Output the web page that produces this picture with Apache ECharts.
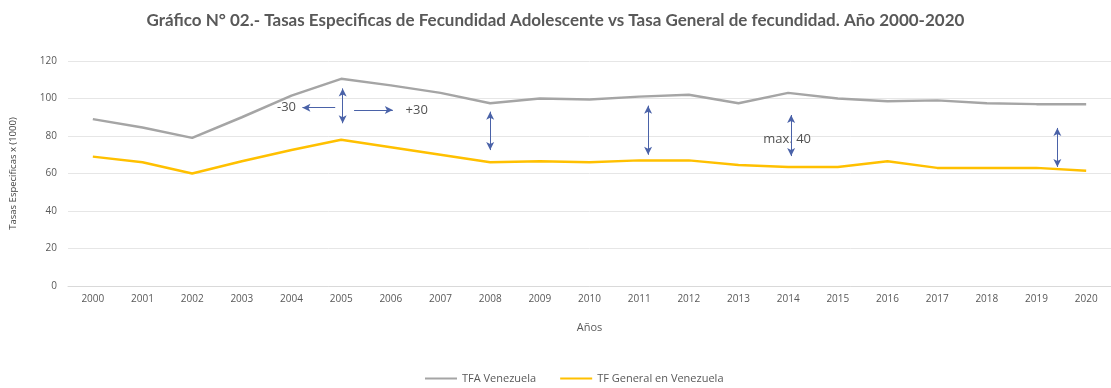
<!DOCTYPE html>
<html><head><meta charset="utf-8">
<script src="https://cdn.jsdelivr.net/npm/echarts@6/dist/echarts.min.js"></script>
<style>html,body{margin:0;padding:0;background:#fff}#c{width:1111px;height:388px}</style>
</head><body><div id="c"></div>
<script>
const years = ['2000','2001','2002','2003','2004','2005','2006','2007','2008','2009','2010','2011','2012','2013','2014','2015','2016','2017','2018','2019','2020'];
const tfaVenezuela = [89, 84.5, 79, 90, 101.5, 110.5, 107, 103, 97.5, 100, 99.5, 101, 102, 97.5, 103, 100, 98.5, 99, 97.5, 97, 97];
const tfGeneral = [69, 66, 60, 66.5, 72.5, 78, 74, 70, 66, 66.5, 66, 67, 67, 64.5, 63.5, 63.5, 66.5, 63, 63, 63, 61.5];
const yTicks = [0, 20, 40, 60, 80, 100, 120];
// annotation arrows: [x (category index), yFrom, yTo]
const vArrows = [[5.03, 86.8, 105.4], [8.0, 72.5, 93], [11.18, 70, 96.2], [14.06, 69.3, 91.2], [19.42, 63.5, 84.3]];
// horizontal arrows: [xTail, xHead, y]
const hArrows = [[4.88, 4.22, 95.1], [5.26, 6.04, 93.9]];
const labels = [[3.9, 95.1, '-30'], [6.52, 93.9, '+30'], [13.98, 78.4, 'max. 40']];

const arrowColor = '#4a62a8';
const markData = [];
vArrows.forEach(a => markData.push([{coord:[a[0], a[1]], symbol:'arrow'}, {coord:[a[0], a[2]], symbol:'arrow'}]));
hArrows.forEach(a => markData.push([{coord:[a[0], a[2]], symbol:'none'}, {coord:[a[1], a[2]], symbol:'arrow'}]));

const chart = echarts.init(document.getElementById('c'), null, {renderer:'canvas'});
chart.setOption({
  animation:false,
  title:{text:'Gráfico N° 02.- Tasas Especificas de Fecundidad Adolescente vs Tasa General de fecundidad. Año 2000-2020',
    left:'center', top:7, textStyle:{fontFamily:'Lato', fontWeight:'bold', fontSize:17, color:'#595959'}},
  grid:{left:68, right:-11, top:61, bottom:102, containLabel:false},
  legend:{bottom:-1, left:420, itemWidth:32, itemHeight:2, itemGap:24, icon:'rect',
    textStyle:{fontFamily:'Open Sans', fontSize:11, color:'#595959'},
    data:['TFA Venezuela','TF General en Venezuela']},
  xAxis:[{type:'category', data:years, boundaryGap:true,
    axisLine:{lineStyle:{color:'#d9d9d9'}}, axisTick:{show:false},
    axisLabel:{fontFamily:'Open Sans', fontSize:10, color:'#595959', margin:8},
    name:'Años', nameLocation:'middle', nameGap:36,
    nameTextStyle:{fontFamily:'Open Sans', fontSize:11, color:'#595959'}},
    {type:'value', min:-0.5, max:20.5, show:false}],
  yAxis:{type:'value', min:0, max:120, interval:20,
    axisLabel:{fontFamily:'Open Sans', fontSize:10, color:'#595959', margin:11,
      formatter: v => yTicks.includes(v) ? String(v) : ''},
    splitLine:{lineStyle:{color:'#e6e6e6'}}, axisLine:{show:false}, axisTick:{show:false},
    name:'Tasas Especificas x (1000)', nameLocation:'middle', nameGap:50, nameRotate:90,
    nameTextStyle:{fontFamily:'Open Sans', fontSize:9.5, color:'#404040'}},
  series:[
    {name:'TFA Venezuela', type:'line', data:tfaVenezuela, symbol:'none', lineStyle:{color:'#a5a5a5', width:2.5}, itemStyle:{color:'#a5a5a5'}},
    {name:'TF General en Venezuela', type:'line', data:tfGeneral, symbol:'none', lineStyle:{color:'#ffc000', width:2.5}, itemStyle:{color:'#ffc000'}},
    {name:'ann', type:'scatter', xAxisIndex:1, data:labels.map(l => [l[0], l[1], l[2]]), symbolSize:0,
      label:{show:true, formatter:p => p.data[2], position:'inside', fontFamily:'Open Sans', fontSize:13, color:'#262626'},
      markLine:{silent:true, symbolSize:[6,8], label:{show:false},
        lineStyle:{color:arrowColor, width:1, type:'solid'}, data:markData}}
  ]
});
</script></body></html>
